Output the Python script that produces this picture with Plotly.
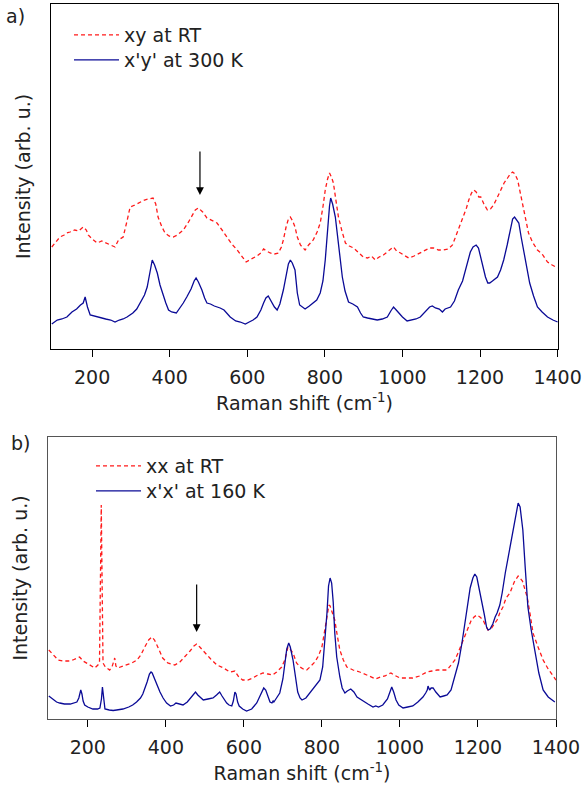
import plotly.graph_objects as go

# ---- panel a: xy at RT (red, dashed) ----
a_xy_shift = [96, 105, 117, 128, 135, 143, 155, 165, 177, 185, 190, 200, 213, 225, 238, 248, 259, 268, 280, 290,
              298, 310, 324, 335, 345, 357, 364, 370, 380, 388, 398, 409, 420, 435, 447, 458, 466, 474, 485, 496,
              510, 522, 535, 548, 560, 574, 585, 597, 610, 625, 635, 642, 650, 659, 670, 680, 688, 693, 700, 706,
              711, 717, 723, 729, 737, 749, 758, 770, 780, 788, 795, 801, 807, 812, 817, 822, 828, 835, 844, 853,
              863, 874, 885, 899, 910, 920, 930, 940, 951, 962, 970, 977, 985, 995, 1005, 1016, 1030, 1046, 1060, 1070,
              1080, 1093, 1106, 1118, 1129, 1136, 1142, 1150, 1158, 1165, 1171, 1178, 1184, 1190, 1197, 1202, 1210, 1219, 1227, 1235,
              1245, 1253, 1262, 1271, 1278, 1284, 1290, 1297, 1303, 1310, 1318, 1325, 1335, 1348, 1360, 1374, 1386, 1400]
a_xy_int = [102, 106, 112, 114, 116, 117, 119, 118, 122, 119, 114, 110, 106, 108, 106, 104, 102, 109, 112, 128,
            142, 144, 147, 149, 150, 151, 145, 132, 122, 116, 113, 112, 114, 119, 126, 134, 139, 141, 137, 131,
            128, 126, 119, 112, 105, 99, 93, 87, 90, 93, 96, 100, 98, 96, 95, 96, 102, 109, 122, 130,
            132, 128, 122, 112, 104, 99, 104, 109, 117, 126, 142, 159, 170, 176, 172, 166, 150, 132, 118, 106,
            103, 101, 97, 92, 91, 93, 89, 92, 94, 98, 100, 102, 98, 96, 94, 91, 93, 96, 99, 101,
            101, 99, 99, 100, 104, 111, 116, 124, 132, 141, 149, 156, 159, 157, 152, 152, 145, 139, 140, 144,
            152, 159, 166, 171, 175, 177, 175, 169, 157, 146, 129, 116, 107, 99, 95, 87, 84, 81]

# ---- panel a: x'y' at 300 K (blue, solid) ----
a_300_shift = [96, 110, 122, 135, 148, 160, 170, 177, 182, 188, 195, 205, 220, 235, 248, 259, 270, 280, 290, 305,
               315, 324, 335, 342, 348, 355, 361, 368, 375, 381, 390, 397, 405, 417, 425, 435, 444, 455, 463, 468,
               474, 479, 483, 490, 496, 505, 515, 530, 540, 556, 570, 582, 595, 605, 615, 625, 635, 642, 648, 654,
               658, 664, 670, 677, 684, 693, 700, 706, 711, 716, 723, 729, 735, 742, 749, 760, 770, 779, 788, 795,
               801, 807, 812, 815, 820, 827, 834, 840, 845, 852, 861, 872, 884, 892, 899, 910, 920, 935, 948, 961,
               970, 977, 984, 990, 1000, 1012, 1025, 1035, 1046, 1060, 1070, 1077, 1085, 1095, 1103, 1110, 1117, 1124, 1134, 1144,
               1155, 1162, 1170, 1175, 1182, 1190, 1196, 1202, 1208, 1214, 1220, 1225, 1232, 1240, 1245, 1253, 1261, 1270, 1279, 1284,
               1289, 1294, 1300, 1306, 1312, 1320, 1328, 1338, 1348, 1360, 1374, 1388, 1400]
a_300_int = [25, 29, 30, 32, 37, 40, 44, 46, 52, 42, 34, 33, 31, 30, 29, 27, 29, 30, 32, 36,
             40, 46, 54, 62, 75, 89, 84, 76, 64, 56, 46, 39, 37, 36, 40, 46, 52, 60, 68, 71,
             67, 63, 59, 51, 46, 45, 43, 41, 39, 32, 28, 27, 25, 27, 29, 32, 39, 46, 51, 53,
             50, 47, 42, 39, 45, 59, 74, 85, 89, 86, 79, 56, 44, 42, 40, 43, 46, 49, 56, 68,
             89, 121, 143, 151, 145, 132, 108, 85, 72, 58, 47, 45, 42, 36, 32, 31, 30, 29, 30, 32,
             38, 42, 39, 36, 32, 28, 29, 30, 32, 38, 42, 43, 41, 40, 37, 40, 41, 42, 48, 59,
             68, 79, 91, 97, 102, 104, 101, 92, 82, 72, 66, 66, 68, 70, 72, 79, 89, 104, 122, 130,
             132, 129, 126, 112, 99, 83, 66, 53, 42, 37, 32, 29, 27]

# ---- panel b: xx at RT (red, dashed) ----
b_xx_shift = [100, 112, 124, 136, 150, 162, 172, 179, 188, 197, 208, 218, 226, 230, 233, 234.5, 236, 239, 245, 250,
              256, 262, 266, 269, 272, 277, 290, 300, 313, 326, 336, 346, 356, 364, 371, 377, 385, 392, 405, 423,
              436, 449, 462, 472, 479, 487, 500, 515, 531, 548, 564, 577, 587, 597, 610, 623, 636, 649, 662, 674,
              684, 697, 705, 713, 718, 726, 735, 744, 752, 761, 772, 782, 791, 800, 807, 813, 818, 821, 827, 833,
              840, 846, 855, 864, 880, 897, 915, 938, 950, 962, 970, 977, 985, 1000, 1017, 1033, 1050, 1069, 1082, 1095,
              1108, 1121, 1131, 1141, 1150, 1159, 1167, 1174, 1182, 1190, 1197, 1205, 1213, 1220, 1226, 1235, 1242, 1249, 1256, 1264,
              1272, 1282, 1293, 1303, 1314, 1326, 1334, 1341, 1354, 1367, 1380, 1395, 1400]
b_xx_int = [69, 64, 59, 58, 58, 59, 61, 62, 58, 56, 53, 51, 54, 57, 160, 214, 160, 56, 52, 51,
            49, 52, 59, 61, 53, 51, 53, 54, 56, 59, 64, 72, 79, 82, 79, 74, 67, 61, 56, 54,
            57, 62, 68, 73, 75, 72, 66, 60, 54, 51, 47, 48, 42, 39, 39, 41, 44, 46, 45, 44,
            47, 52, 59, 72, 70, 66, 56, 52, 50, 49, 53, 57, 63, 72, 88, 102, 114, 113, 107, 99,
            82, 69, 59, 52, 49, 47, 44, 40, 42, 43, 45, 46, 44, 41, 41, 41, 43, 47, 48, 49,
            49, 49, 54, 59, 67, 76, 84, 92, 98, 102, 104, 102, 99, 93, 89, 91, 95, 99, 106, 112,
            121, 126, 137, 143, 138, 122, 104, 86, 72, 59, 50, 41, 39]

# ---- panel b: x'x' at 160 K (blue, solid) ----
b_160_shift = [100, 110, 120, 128, 140, 155, 165, 172, 177, 180, 182, 185, 188, 192, 200, 213, 225, 231, 235, 237.5,
               240, 244, 255, 265, 274, 290, 305, 315, 325, 335, 341, 346, 352, 358, 362, 365, 370, 377, 385, 393,
               402, 412, 420, 426, 435, 444, 455, 465, 472, 476, 482, 489, 496, 508, 521, 530, 538, 544, 550, 556,
               562, 569, 573, 577, 580, 584, 588, 597, 607, 620, 633, 642, 648, 651, 656, 662, 667, 672, 675, 677,
               682, 692, 700, 705, 710, 715, 719, 726, 732, 738, 744, 749, 759, 769, 782, 795, 802, 808, 813, 817,
               821, 825, 829, 833, 838, 846, 852, 859, 865, 874, 882, 890, 905, 918, 931, 938, 945, 956, 968, 975,
               979, 984, 990, 997, 1008, 1020, 1033, 1046, 1059, 1066, 1070, 1072, 1076, 1080, 1085, 1092, 1103, 1112, 1121, 1131,
               1141, 1150, 1159, 1166, 1172, 1180, 1187, 1192, 1197, 1204, 1210, 1216, 1222, 1226, 1231, 1238, 1244, 1249, 1256, 1262,
               1270, 1282, 1292, 1298, 1303, 1308, 1315, 1321, 1328, 1336, 1346, 1356, 1367, 1380, 1397]
b_160_int = [23, 20, 17, 16, 15, 15, 16, 17, 21, 26, 29, 25, 18, 14, 12, 10, 10, 11, 20, 32,
             20, 10, 9, 8.5, 9, 10, 12, 14, 17, 21, 25, 30, 37, 45, 47, 46, 41, 36, 27, 21,
             16, 13, 14, 16, 15, 14, 17, 22, 26, 27, 24, 21, 19, 20, 21, 24, 27, 23, 19, 16,
             14, 13, 18, 27, 25, 17, 13, 10, 8, 10, 16, 24, 29, 31, 29, 22, 17, 16, 18, 17,
             20, 26, 40, 56, 70, 76, 72, 59, 40, 27, 21, 19, 21, 26, 32, 39, 52, 79, 106, 133,
             141, 136, 117, 86, 62, 42, 31, 26, 28, 30, 27, 22, 18, 15, 12, 13, 12, 14, 20, 28,
             32, 27, 19, 14, 11, 12, 13, 17, 22, 26, 29, 33, 29, 31, 31, 27, 22, 23, 24, 29,
             42, 56, 76, 95, 112, 131, 141, 145, 142, 129, 119, 105, 92, 89, 90, 95, 102, 106, 114, 126,
             146, 172, 196, 209, 216, 212, 189, 152, 112, 90, 69, 46, 29, 22, 17]

tick_vals = [200, 400, 600, 800, 1000, 1200, 1400]

RED = "#ff1a1a"
BLUE = "#0a0a96"
INK = "#222222"
FONT = "DejaVu Sans, Liberation Sans, Arial, sans-serif"
FS = 19
W, H = 583, 786

fig = go.Figure()

fig.add_trace(go.Scatter(x=a_xy_shift, y=a_xy_int, mode="lines", name="xy at RT",
                         line=dict(color=RED, width=1.3, dash="4px,3px"), xaxis="x", yaxis="y", legend="legend"))
fig.add_trace(go.Scatter(x=a_300_shift, y=a_300_int, mode="lines", name="x'y' at 300 K",
                         line=dict(color=BLUE, width=1.3), xaxis="x", yaxis="y", legend="legend2"))
fig.add_trace(go.Scatter(x=b_xx_shift, y=b_xx_int, mode="lines", name="xx at RT",
                         line=dict(color=RED, width=1.3, dash="4px,3px"), xaxis="x2", yaxis="y2", legend="legend3"))
fig.add_trace(go.Scatter(x=b_160_shift, y=b_160_int, mode="lines", name="x'x' at 160 K",
                         line=dict(color=BLUE, width=1.3), xaxis="x2", yaxis="y2", legend="legend4"))

xax = dict(ticks="outside", ticklen=7, tickcolor="black", tickvals=tick_vals, ticklabelstandoff=4,
           showline=True, linecolor="black", linewidth=1, mirror=True, showgrid=False, zeroline=False,
           automargin=False, tickfont=dict(size=FS, color=INK),
           title=dict(text="Raman shift (cm<sup>-1</sup>)", font=dict(size=FS, color=INK), standoff=9))
yax = dict(showticklabels=False, ticks="", showline=True, linecolor="black", linewidth=1, mirror=True,
           showgrid=False, zeroline=False, automargin=False,
           title=dict(text="Intensity (arb. u.)", font=dict(size=FS, color=INK), standoff=14))


def leg(xp, yp):
    return dict(x=xp / W, y=1 - yp / H, xanchor="left", yanchor="middle", bgcolor="rgba(0,0,0,0)",
                font=dict(size=FS, color=INK), itemwidth=45)


fig.update_layout(
    width=W, height=H,
    margin=dict(l=0, r=0, t=0, b=0),
    paper_bgcolor="white", plot_bgcolor="white",
    font=dict(family=FONT, color=INK),
    xaxis=dict(xax, domain=[51 / W, 558 / W], range=[94, 1401], anchor="y"),
    yaxis=dict(yax, domain=[1 - 349 / H, 1 - 4 / H], range=[0, 345], anchor="x"),
    xaxis2=dict(xax, domain=[48 / W, 556 / W], range=[98, 1400], anchor="y2", linecolor="#555"),
    yaxis2=dict(yax, domain=[1 - 719 / H, 1 - 437 / H], range=[0, 282], anchor="x2", linecolor="#555"),
    legend=leg(69, 35),
    legend2=leg(69, 60),
    legend3=leg(91, 466),
    legend4=leg(91, 491),
    showlegend=True,
)

# arrows pointing at the 480 cm-1 feature
fig.add_annotation(x=478, y=154, ax=478, ay=199, xref="x", yref="y", axref="x", ayref="y",
                   showarrow=True, arrowhead=2, arrowsize=1.3, arrowwidth=1.2, arrowcolor="black", text="")
fig.add_annotation(x=479, y=87, ax=479, ay=136, xref="x2", yref="y2", axref="x2", ayref="y2",
                   showarrow=True, arrowhead=2, arrowsize=1.3, arrowwidth=1.2, arrowcolor="black", text="")

# panel labels
fig.add_annotation(x=15 / W, y=1 - 16 / H, xref="paper", yref="paper", text="a)", showarrow=False,
                   xanchor="center", yanchor="middle", font=dict(size=FS, color=INK))
fig.add_annotation(x=20 / W, y=1 - 443 / H, xref="paper", yref="paper", text="b)", showarrow=False,
                   xanchor="center", yanchor="middle", font=dict(size=FS, color=INK))

# the page body has a default 8px margin; drop it so the figure sits at the window origin
fig.write_html("out.html", config={"displayModeBar": False},
               post_script="document.body.style.margin='0px';")
